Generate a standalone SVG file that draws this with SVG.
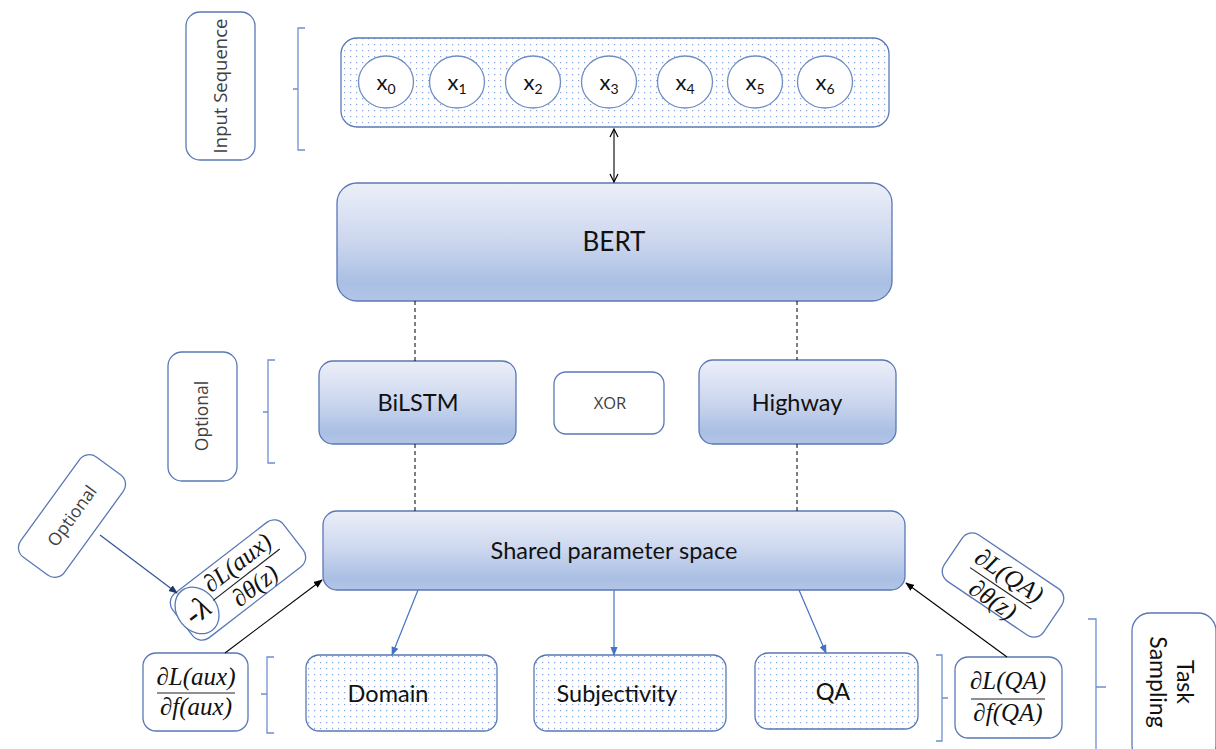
<svg xmlns="http://www.w3.org/2000/svg" width="1216" height="749" viewBox="0 0 1216 749">
<defs>
<linearGradient id="grad" x1="0" y1="0" x2="0" y2="1">
<stop offset="0" stop-color="#eceff8"/>
<stop offset="0.5" stop-color="#cbd6ee"/>
<stop offset="0.85" stop-color="#aabfe4"/>
<stop offset="1" stop-color="#b3c5e6"/>
</linearGradient>
<pattern id="dots" width="6" height="6" patternUnits="userSpaceOnUse">
<rect width="6" height="6" fill="#ffffff"/>
<rect x="2" y="2" width="1.2" height="1.2" fill="#86a2da"/>
</pattern>
<marker id="openArrow" viewBox="0 0 10 10" refX="9" refY="5" markerWidth="10" markerHeight="10" markerUnits="userSpaceOnUse" orient="auto-start-reverse">
<path d="M1,1 L9,5 L1,9" fill="none" stroke="#000" stroke-width="1.2"/>
</marker>
<marker id="blueArrow" viewBox="0 0 10 10" refX="9" refY="5" markerWidth="9" markerHeight="9" markerUnits="userSpaceOnUse" orient="auto">
<path d="M0,1 L10,5 L0,9 Z" fill="#4472c4"/>
</marker>
<marker id="blackArrow" viewBox="0 0 10 10" refX="9" refY="5" markerWidth="9" markerHeight="9" markerUnits="userSpaceOnUse" orient="auto">
<path d="M0,1 L10,5 L0,9 Z" fill="#000"/>
</marker>
<marker id="navyArrow" viewBox="0 0 10 10" refX="9" refY="5" markerWidth="9" markerHeight="9" markerUnits="userSpaceOnUse" orient="auto">
<path d="M0,1 L10,5 L0,9 Z" fill="#1f3864"/>
</marker>
</defs>
<style>
.box { fill: url(#grad); stroke: #5a78b6; stroke-width: 1.3; }
.plain { fill: #ffffff; stroke: #5a78b6; stroke-width: 1.3; }
.dotted { fill: url(#dots); stroke: #5a78b6; stroke-width: 1.3; }
.tok { fill: #ffffff; stroke: #6f8cc4; stroke-width: 1.3; }
.lbl { font-family: Lato, "Liberation Sans", sans-serif; font-size: 23.5px; fill: #111; text-anchor: middle; }
.big { font-family: Lato, "Liberation Sans", sans-serif; font-size: 26px; fill: #111; text-anchor: middle; }
.tokl { font-family: Lato, "Liberation Sans", sans-serif; font-size: 22px; fill: #111; text-anchor: middle; }
.xor { font-family: "Open Sans", "Noto Sans", sans-serif; font-size: 16.5px; fill: #404040; text-anchor: middle; }
.side { font-family: "Open Sans", "Noto Sans", sans-serif; font-size: 17.5px; fill: #404040; text-anchor: middle; }
.math { font-family: "Liberation Serif", "DejaVu Serif", serif; font-style: italic; font-size: 25px; fill: #111; text-anchor: middle; }
.lam { font-family: "Liberation Serif", "DejaVu Serif", serif; font-size: 32px; fill: #111; text-anchor: middle; }
.fracline { stroke: #222; stroke-width: 1.2; }
.brk { fill: none; stroke: #6f8fd0; stroke-width: 1.3; }
.dash { stroke: #000; stroke-width: 1; stroke-dasharray: 4 3; fill: none; }
.blue { stroke: #4472c4; stroke-width: 1.2; fill: none; marker-end: url(#blueArrow); }
.black { stroke: #000; stroke-width: 1.1; fill: none; marker-end: url(#blackArrow); }
</style>
<rect width="1216" height="749" fill="#ffffff"/>

<g id="brackets">
<path class="brk" d="M305,28 H298 V150 H305 M298,89 H293"/>
<path class="brk" d="M275,360 H268 V463 H275 M268,412 H263"/>
<path class="brk" d="M274,657 H267 V733 H274 M267,694 H261"/>
<path class="brk" d="M936,655 H942 V741 H936 M942,698 H948"/>
<path class="brk" d="M1088,619 H1096 V749 M1096,687 H1106"/>
</g>

<g id="input-sequence-label">
<rect class="plain" x="186" y="12" width="69" height="148" rx="14"/>
<text class="side" style="font-size:18.5px" transform="translate(227,86) rotate(-90)">Input Sequence</text>
</g>

<g id="input-sequence">
<rect class="dotted" x="341" y="38" width="548" height="89" rx="16"/>
<g id="x0"><ellipse class="tok" cx="386" cy="82" rx="27.5" ry="26"/><text class="tokl" x="386" y="90">x<tspan style="font-size:14px" dy="4">0</tspan></text></g>
<g id="x1"><ellipse class="tok" cx="457" cy="82" rx="27.5" ry="26"/><text class="tokl" x="457" y="90">x<tspan style="font-size:14px" dy="4">1</tspan></text></g>
<g id="x2"><ellipse class="tok" cx="533" cy="82" rx="27.5" ry="26"/><text class="tokl" x="533" y="90">x<tspan style="font-size:14px" dy="4">2</tspan></text></g>
<g id="x3"><ellipse class="tok" cx="609" cy="82" rx="27.5" ry="26"/><text class="tokl" x="609" y="90">x<tspan style="font-size:14px" dy="4">3</tspan></text></g>
<g id="x4"><ellipse class="tok" cx="685" cy="82" rx="27.5" ry="26"/><text class="tokl" x="685" y="90">x<tspan style="font-size:14px" dy="4">4</tspan></text></g>
<g id="x5"><ellipse class="tok" cx="755" cy="82" rx="27.5" ry="26"/><text class="tokl" x="755" y="90">x<tspan style="font-size:14px" dy="4">5</tspan></text></g>
<g id="x6"><ellipse class="tok" cx="825" cy="82" rx="27.5" ry="26"/><text class="tokl" x="825" y="90">x<tspan style="font-size:14px" dy="4">6</tspan></text></g>
</g>

<g id="bert">
<rect class="box" x="337" y="183" width="555" height="118" rx="20"/>
<text class="big" x="614" y="251">BERT</text>
</g>

<g id="optional-label">
<rect class="plain" x="168" y="352" width="69" height="129" rx="14"/>
<text class="side" transform="translate(208,416) rotate(-90)">Optional</text>
</g>

<g id="bilstm">
<rect class="box" x="319" y="361" width="197" height="83" rx="14"/>
<text class="lbl" x="418" y="411">BiLSTM</text>
</g>

<g id="xor">
<rect class="plain" x="554" y="372" width="110" height="62" rx="12"/>
<text class="xor" x="610" y="409">XOR</text>
</g>

<g id="highway">
<rect class="box" x="699" y="360" width="197" height="84" rx="14"/>
<text class="lbl" x="797" y="411">Highway</text>
</g>

<g id="shared">
<rect class="box" x="323" y="511" width="582" height="79" rx="14"/>
<text class="lbl" x="614" y="559">Shared parameter space</text>
</g>

<g id="domain">
<rect class="dotted" x="306" y="655" width="191" height="76" rx="13"/>
<text class="lbl" x="388" y="702">Domain</text>
</g>

<g id="subjectivity">
<rect class="dotted" x="534" y="655" width="192" height="76" rx="13"/>
<text class="lbl" x="617" y="702">Subjectivity</text>
</g>

<g id="qa">
<rect class="dotted" x="755" y="653" width="163" height="76" rx="13"/>
<text class="lbl" x="833" y="700">QA</text>
</g>

<g id="optional-rotated">
<g transform="translate(72,516) rotate(-54)">
<rect class="plain" x="-62" y="-27" width="124" height="54" rx="12"/>
<text class="side" x="0" y="6">Optional</text>
</g>
</g>

<g id="lambda-grad">
<g transform="translate(238,580) rotate(-37.7)">
<rect class="plain" x="-70" y="-28" width="140" height="56" rx="12"/>
<ellipse cx="-51" cy="-1" rx="20" ry="25" fill="#ffffff" stroke="#5a78b6" stroke-width="1.3"/>
<text class="lam" x="-51" y="10">-<tspan style="font-style:italic">λ</tspan></text>
<text class="math" x="10" y="-6">∂L(aux)</text>
<line class="fracline" x1="-32" y1="1" x2="52" y2="1"/>
<text class="math" x="10" y="23">∂θ(z)</text>
</g>
</g>

<g id="aux-grad">
<rect class="plain" x="143" y="653" width="105" height="78" rx="13"/>
<text class="math" x="196" y="685">∂L(aux)</text>
<line class="fracline" x1="157" y1="693" x2="235" y2="693"/>
<text class="math" x="196" y="715">∂f(aux)</text>
</g>

<g id="qa-theta-grad">
<g transform="translate(1003,585) rotate(34)">
<rect class="plain" x="-60" y="-28" width="120" height="56" rx="12"/>
<text class="math" x="0" y="-3">∂L(QA)</text>
<line class="fracline" x1="-37" y1="4" x2="37" y2="4"/>
<text class="math" x="0" y="26">∂θ(z)</text>
</g>
</g>

<g id="qa-grad">
<rect class="plain" x="955" y="657" width="107" height="81" rx="13"/>
<text class="math" x="1008" y="689">∂L(QA)</text>
<line class="fracline" x1="971" y1="699" x2="1045" y2="699"/>
<text class="math" x="1008" y="721">∂f(QA)</text>
</g>

<g id="task-sampling">
<rect class="plain" x="1132" y="613" width="84" height="150" rx="18"/>
<text class="lbl" style="font-size:23px" transform="translate(1172,682) rotate(90)"><tspan x="0" y="-5">Task</tspan><tspan x="0" y="22">Sampling</tspan></text>
</g>

<g id="connectors">
<line x1="614" y1="129" x2="614" y2="182" stroke="#000" stroke-width="1.1" marker-start="url(#openArrow)" marker-end="url(#openArrow)"/>
<line class="dash" x1="415" y1="301" x2="415" y2="361"/>
<line class="dash" x1="797" y1="301" x2="797" y2="360"/>
<line class="dash" x1="415" y1="444" x2="415" y2="511"/>
<line class="dash" x1="797" y1="444" x2="797" y2="511"/>
<line class="blue" x1="418" y1="590" x2="392" y2="655"/>
<line class="blue" x1="614" y1="590" x2="614" y2="655"/>
<line class="blue" x1="799" y1="590" x2="826" y2="653"/>
<line class="black" x1="225" y1="653" x2="322" y2="580"/>
<line class="black" x1="1007" y1="657" x2="906" y2="583"/>
<line x1="100" y1="535" x2="177" y2="593" stroke="#2f5597" stroke-width="1.2" marker-end="url(#navyArrow)"/>
</g>
</svg>
